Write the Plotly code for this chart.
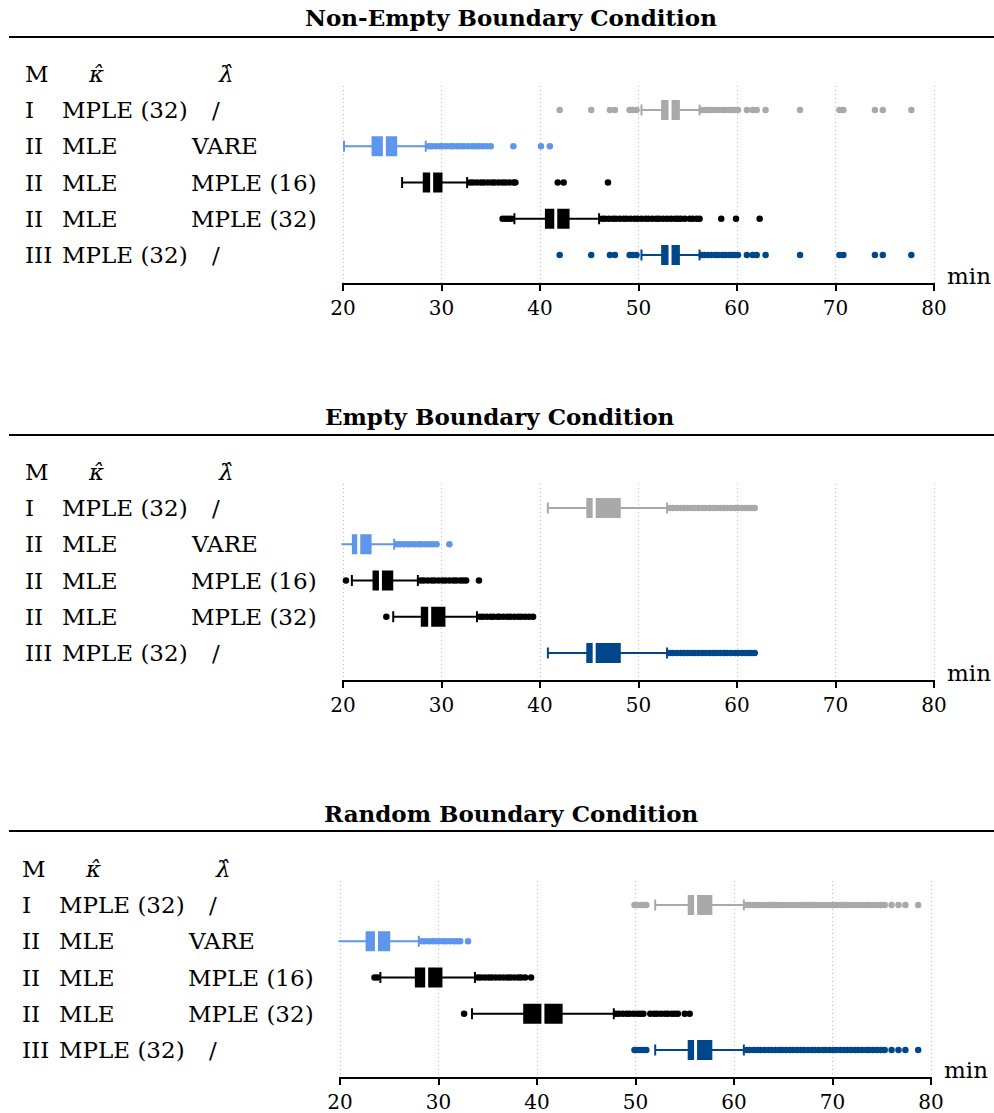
import plotly.graph_objects as go

# ---------------- data ----------------
col_M = ["I", "II", "II", "II", "III"]
col_kappa = ["MPLE (32)", "MLE", "MLE", "MLE", "MPLE (32)"]
col_lambda = ["/", "VARE", "MPLE (16)", "MPLE (32)", "/"]
header = ["M", "<i>κ̂</i>", "<i>λ̂</i>"]
titles = ["Non-Empty Boundary Condition", "Empty Boundary Condition", "Random Boundary Condition"]
tick_vals = [20, 30, 40, 50, 60, 70, 80]
unit_label = "min"

# Non-empty boundary condition
ne_q1 = [52.4, 23.0, 28.2, 40.6, 52.4]
ne_med = [53.2, 24.2, 29.0, 41.6, 53.2]
ne_q3 = [54.1, 25.4, 30.0, 42.9, 54.1]
ne_lo = [50.3, 20.1, 26.0, 37.4, 50.3]
ne_hi = [56.2, 28.4, 32.6, 46.0, 56.2]
ne_out_I = [42.0, 45.2, 47.1, 47.6, 49.1, 49.4, 49.8,
            56.4, 56.7, 57.1, 57.4, 57.8, 58.1, 58.5, 58.8, 59.2, 59.5, 59.8, 60.1,
            61.0, 61.6, 62.0, 62.9, 66.4, 70.4, 70.8, 74.0, 74.8, 77.7]
ne_out_vare = [28.7, 29.0, 29.4, 29.8, 30.1, 30.5, 30.9, 31.2, 31.6, 32.0, 32.3, 32.7,
               33.1, 33.4, 33.8, 34.2, 34.6, 35.0, 37.3, 40.1, 41.0]
ne_out_m16 = [32.9, 33.2, 33.6, 34.0, 34.3, 34.7, 35.1, 35.4, 35.8, 36.2, 36.5, 36.9,
              37.3, 37.5, 41.8, 42.4, 46.9]
ne_out_m32 = [36.2, 36.5, 36.8, 37.1, 46.3, 46.6, 47.0, 47.4, 47.7, 48.1, 48.5, 48.8,
              49.2, 49.6, 49.9, 50.3, 50.7, 51.0, 51.4, 51.8, 52.1, 52.5, 52.9, 53.3,
              53.7, 54.0, 54.3, 54.7, 55.2, 55.5, 55.9, 56.2, 58.4, 59.9, 62.3]
ne_out_III = ne_out_I

# Empty boundary condition
em_q1 = [44.8, 21.0, 23.1, 28.0, 44.8]
em_med = [45.5, 21.6, 23.8, 28.8, 45.5]
em_q3 = [48.1, 22.8, 25.0, 30.3, 48.1]
em_lo = [40.8, 19.0, 20.9, 25.1, 40.8]
em_hi = [52.9, 25.2, 27.6, 33.6, 52.9]
em_out_I = [53.2, 53.5, 53.9, 54.3, 54.6, 55.0, 55.4, 55.7, 56.1, 56.5, 56.8, 57.2,
            57.6, 57.9, 58.3, 58.7, 59.0, 59.4, 59.8, 60.1, 60.5, 60.9, 61.2, 61.5, 61.8]
em_out_vare = [18.3, 25.5, 25.8, 26.2, 26.6, 26.9, 27.3, 27.7, 28.0, 28.4, 28.8, 29.1,
               29.5, 30.8]
em_out_m16 = [20.3, 27.9, 28.2, 28.6, 29.0, 29.3, 29.7, 30.1, 30.4, 30.8, 31.2, 31.5,
              31.9, 32.2, 32.5, 33.8]
em_out_m32 = [24.4, 33.9, 34.2, 34.6, 35.0, 35.3, 35.7, 35.9, 36.3, 36.7, 37.0, 37.4,
              37.8, 38.1, 38.5, 38.9, 39.3]
em_out_III = em_out_I

# Random boundary condition
ra_q1 = [55.4, 22.7, 27.7, 38.7, 55.4]
ra_med = [56.1, 23.7, 28.8, 40.6, 56.1]
ra_q3 = [57.7, 25.0, 30.3, 42.5, 57.7]
ra_lo = [52.0, 19.7, 24.1, 33.4, 52.0]
ra_hi = [61.0, 28.0, 33.7, 47.8, 61.0]
ra_out_I = [49.9, 50.2, 50.5, 50.8, 51.1,
            61.3, 61.6, 62.0, 62.4, 62.7, 63.1, 63.5, 63.8, 64.2, 64.6, 64.9, 65.3,
            65.7, 66.0, 66.4, 66.8, 67.1, 67.5, 67.9, 68.2, 68.6, 69.0, 69.3, 69.7,
            70.1, 70.4, 70.8, 71.2, 71.5, 71.9, 72.3, 72.6, 73.0, 73.4, 73.7, 74.1,
            74.5, 74.9, 75.3, 76.0, 76.7, 77.4, 78.7]
ra_out_vare = [19.3, 28.3, 28.6, 29.0, 29.4, 29.7, 30.1, 30.5, 30.8, 31.2, 31.6, 31.9,
               32.2, 33.0]
ra_out_m16 = [23.5, 23.8, 34.0, 34.3, 34.7, 35.1, 35.4, 35.8, 36.2, 36.6, 37.0, 37.3,
              37.7, 38.1, 38.4, 38.8, 39.4]
ra_out_m32 = [32.6, 48.0, 48.3, 48.7, 49.1, 49.4, 49.8, 50.2, 50.5, 50.8, 51.5, 51.9,
              52.2, 52.6, 53.0, 53.3, 53.7, 54.0, 54.3, 55.0, 55.5]
ra_out_III = ra_out_I

colors = ["#A9A9A9", "#5E96EC", "#000000", "#000000", "#00468B"]

# ---------------- layout geometry (pixels) ----------------
W, H = 994, 1113
FONT = "DejaVu Serif"
ROW = 36.25
PAD = 0.15  # small range padding so the edge grid lines are drawn

panels = [
    dict(q1=ne_q1, med=ne_med, q3=ne_q3, lo=ne_lo, hi=ne_hi,
         out=[ne_out_I, ne_out_vare, ne_out_m16, ne_out_m32, ne_out_III],
         top=86, bottom=283, xl=343, xr=934, dx=0, title_y=18, title_x=511, rule_y=37),
    dict(q1=em_q1, med=em_med, q3=em_q3, lo=em_lo, hi=em_hi,
         out=[em_out_I, em_out_vare, em_out_m16, em_out_m32, em_out_III],
         top=484, bottom=680, xl=343, xr=934, dx=0, title_y=416, title_x=500, rule_y=435),
    dict(q1=ra_q1, med=ra_med, q3=ra_q3, lo=ra_lo, hi=ra_hi,
         out=[ra_out_I, ra_out_vare, ra_out_m16, ra_out_m32, ra_out_III],
         top=881, bottom=1077, xl=340, xr=931, dx=-3, title_y=813, title_x=511, rule_y=831),
]

fig = go.Figure()
annotations = []
shapes = []


def px(x):
    return x / W


def py(y):
    return 1 - y / H


def label(txt, x, y, **kw):
    d = dict(text=txt, x=px(x), y=py(y), xref="paper", yref="paper",
             xanchor="left", yanchor="middle", showarrow=False)
    d.update(kw)
    return d


for i, p in enumerate(panels):
    k = "" if i == 0 else str(i + 1)
    xa, ya = "x" + k, "y" + k
    dx = p["dx"]
    first_row = p["top"] + 24
    for r in range(5):
        pos = r + 1
        c = colors[r]
        fig.add_trace(go.Box(
            q1=[p["q1"][r]], median=[p["med"][r]], q3=[p["q3"][r]],
            lowerfence=[p["lo"][r]], upperfence=[p["hi"][r]], y=[pos],
            orientation="h", fillcolor=c, line=dict(color=c, width=2),
            width=0.5, whiskerwidth=0.6, boxpoints=False,
            xaxis=xa, yaxis=ya, showlegend=False, hoverinfo="skip"))
        fig.add_trace(go.Scatter(
            x=p["out"][r], y=[pos] * len(p["out"][r]), mode="markers",
            marker=dict(color=c, size=6.5, line=dict(width=0)), cliponaxis=False,
            xaxis=xa, yaxis=ya, showlegend=False, hoverinfo="skip"))
        fig.add_trace(go.Scatter(
            x=[p["med"][r]], y=[pos], mode="markers",
            marker=dict(symbol="line-ns", size=15, line=dict(color="white", width=3)),
            cliponaxis=False, xaxis=xa, yaxis=ya, showlegend=False, hoverinfo="skip"))
        # table labels
        ry = first_row + r * ROW
        annotations.append(label(col_M[r], 23 + dx, ry))
        annotations.append(label(col_kappa[r], 60 + dx, ry))
        lx = 210 if col_lambda[r] == "/" else 189
        annotations.append(label(col_lambda[r], lx + dx, ry))
    # header row
    hy = first_row - ROW
    for txt, hx in zip(header, [23, 86, 216]):
        annotations.append(label(txt, hx + dx, hy))
    # title and rule
    annotations.append(label("<b>" + titles[i] + "</b>", p["title_x"], p["title_y"],
                             xanchor="center", font=dict(size=23)))
    shapes.append(dict(type="line", xref="paper", yref="paper", x0=px(9), x1=1,
                       y0=py(p["rule_y"]), y1=py(p["rule_y"]),
                       line=dict(color="black", width=2)))
    annotations.append(label(unit_label, p["xr"] + 11, p["bottom"] - 7))

    s = (p["xr"] - p["xl"]) / 60.0
    row_px = p["bottom"] - p["top"]
    y_top = 1 - 24 / ROW
    y_bot = 5 + (row_px - 24 - 4 * ROW) / ROW
    fig.layout["xaxis" + k] = dict(
        domain=[px(p["xl"] - PAD * s), px(p["xr"] + PAD * s)], anchor=ya,
        range=[20 - PAD, 80 + PAD],
        tickvals=tick_vals, showgrid=True, gridcolor="#bdbdbd", griddash="1px,3px",
        gridwidth=1,
        showline=True, linecolor="black", linewidth=2, ticks="outside", ticklen=6,
        tickwidth=2, tickcolor="black", zeroline=False, automargin=False,
        tickfont=dict(family=FONT, size=20, color="black"), fixedrange=True)
    fig.layout["yaxis" + k] = dict(
        domain=[py(p["bottom"]), py(p["top"])], anchor=xa, range=[y_bot, y_top],
        showgrid=False, showticklabels=False, zeroline=False, showline=False, ticks="",
        automargin=False, fixedrange=True)

fig.update_layout(
    width=W, height=H, margin=dict(l=0, r=0, t=0, b=0, autoexpand=False),
    paper_bgcolor="white", plot_bgcolor="white",
    font=dict(family=FONT, size=23, color="black"),
    annotations=annotations, shapes=shapes, showlegend=False,
)

fig.write_html("out.html")
